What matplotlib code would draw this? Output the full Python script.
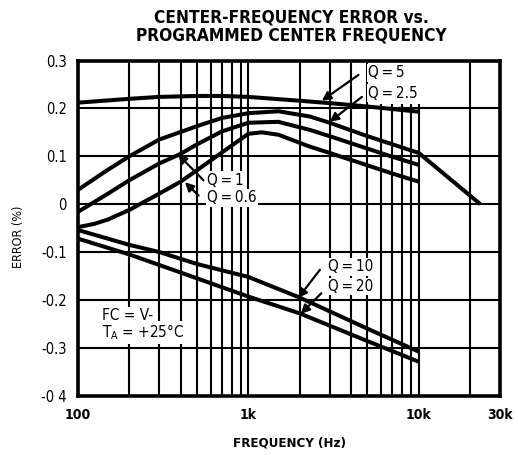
import numpy as np
import matplotlib
matplotlib.use('Agg')
import matplotlib.pyplot as plt

plt.rcParams['font.family'] = ['DejaVu Sans']
plt.rcParams['font.stretch'] = 'condensed'

# curve data (frequency in Hz, error in %)
f_q5 = [100, 200, 300, 500, 700, 1000, 2000, 3000, 5000, 10000]
e_q5 = [0.212, 0.22, 0.224, 0.226, 0.226, 0.224, 0.216, 0.211, 0.204, 0.193]

f_q25 = [100, 150, 200, 300, 500, 700, 1000, 1500, 2300, 3000, 5000, 7000, 10000, 23000]
e_q25 = [0.03, 0.072, 0.1, 0.135, 0.163, 0.18, 0.19, 0.194, 0.183, 0.17, 0.142, 0.125, 0.107, 0.0]

f_q1 = [100, 150, 200, 300, 400, 500, 700, 1000, 1500, 2300, 3000, 5000, 7000, 10000]
e_q1 = [-0.016, 0.022, 0.05, 0.085, 0.105, 0.125, 0.152, 0.17, 0.172, 0.155, 0.142, 0.116, 0.099, 0.082]

f_q06 = [100, 125, 150, 200, 300, 400, 500, 700, 1000, 1200, 1500, 2300, 3000, 5000, 7000, 10000]
e_q06 = [-0.048, -0.041, -0.032, -0.012, 0.022, 0.047, 0.071, 0.108, 0.147, 0.15, 0.145, 0.12, 0.107, 0.081, 0.064, 0.047]

f_q10 = [100, 200, 300, 500, 1000, 2000, 5000, 10000]
e_q10 = [-0.054, -0.085, -0.1, -0.125, -0.152, -0.195, -0.26, -0.308]

f_q20 = [100, 200, 300, 500, 1000, 2000, 5000, 10000]
e_q20 = [-0.072, -0.105, -0.127, -0.155, -0.193, -0.228, -0.286, -0.329]

yticks = [0.3, 0.2, 0.1, 0, -0.1, -0.2, -0.3, -0.4]
ytick_labels = ['0.3', '0.2', '0.1', '0', '-0.1', '-0.2', '-0.3', '-0 4']
xticks = [100, 1000, 10000, 30000]
xtick_labels = ['100', '1k', '10k', '30k']

full_vlines = [200, 300, 400, 500, 600, 700, 800, 900, 1000, 2000, 3000, 4000, 5000, 20000]
short_vlines = [6000, 7000, 8000, 9000, 10000]

fig = plt.figure(figsize=(5.18, 4.55), dpi=100)
ax = fig.add_axes([0.1506, 0.1303, 0.8147, 0.7367])
ax.set_xscale('log')
ax.set_xlim(100, 30000)
ax.set_ylim(-0.4, 0.3)

# grid
for y in yticks[1:-1]:
    ax.axhline(y, color='black', lw=1.5, zorder=1)
for x in full_vlines:
    ax.axvline(x, color='black', lw=1.5, zorder=1)
ax.vlines(short_vlines, -0.4, 0.21, color='black', lw=1.5, zorder=1)

lw = 2.9
for f, e in [(f_q5, e_q5), (f_q25, e_q25), (f_q1, e_q1), (f_q06, e_q06), (f_q10, e_q10), (f_q20, e_q20)]:
    ax.plot(f, e, color='black', lw=lw, solid_capstyle='butt', zorder=3)

for s in ax.spines.values():
    s.set_linewidth(2.6)

ax.set_yticks(yticks)
ax.set_yticklabels(ytick_labels, fontsize=10.5)
ax.set_xticks(xticks)
ax.set_xticklabels(xtick_labels, fontsize=10, fontweight='bold')
ax.xaxis.set_minor_locator(matplotlib.ticker.NullLocator())
ax.tick_params(length=0, pad=9)
ax.tick_params(axis='y', pad=8)

ax.set_ylabel('ERROR (%)', fontsize=9)
ax.yaxis.set_label_coords(-0.125, 0.473)
ax.set_xlabel('FREQUENCY (Hz)', fontsize=9.5, fontweight='bold')
ax.xaxis.set_label_coords(0.5, -0.123)

fig.text(0.562, 0.9615, 'CENTER-FREQUENCY ERROR vs.', ha='center', va='center',
         fontsize=12.4, fontweight='heavy')
fig.text(0.563, 0.922, 'PROGRAMMED CENTER FREQUENCY', ha='center', va='center',
         fontsize=12.4, fontweight='heavy')

box = dict(facecolor='white', edgecolor='none', pad=1)
ap = dict(arrowstyle='-|>', color='black', lw=1.6, mutation_scale=13, shrinkA=0, shrinkB=0)
tk = dict(fontsize=11, va='center', ha='left', zorder=5)

ax.text(5030, 0.274, 'Q\u2009=\u20095', bbox=box, **tk)
ax.text(5030, 0.232, 'Q\u2009=\u20092.5', bbox=box, **tk)
ax.annotate('', xy=(2700, 0.216), xytext=(4430, 0.27), arrowprops=ap, zorder=4)
ax.annotate('', xy=(3000, 0.172), xytext=(4640, 0.224), arrowprops=ap, zorder=4)

ax.text(571, 0.05, 'Q\u2009=\u20091', bbox=box, **tk)
ax.text(571, 0.013, 'Q\u2009=\u20090.6', bbox=box, **tk)
ax.annotate('', xy=(386, 0.104), xytext=(545, 0.05), arrowprops=ap, zorder=4)
ax.annotate('', xy=(424, 0.046), xytext=(510, 0.018), arrowprops=ap, zorder=4)

ax.text(2940, -0.131, 'Q\u2009=\u200910', bbox=box, **tk)
ax.text(2940, -0.172, 'Q\u2009=\u200920', bbox=box, **tk)
ax.annotate('', xy=(1960, -0.196), xytext=(2630, -0.137), arrowprops=ap, zorder=4)
ax.annotate('', xy=(2030, -0.229), xytext=(2680, -0.186), arrowprops=ap, zorder=4)

ax.text(138, -0.233, 'FC = V-', bbox=box, **tk)
ax.text(138, -0.268, r'T$_\mathregular{A}$ = +25°C', bbox=box, **tk)

fig.savefig('out.png', dpi=100)
